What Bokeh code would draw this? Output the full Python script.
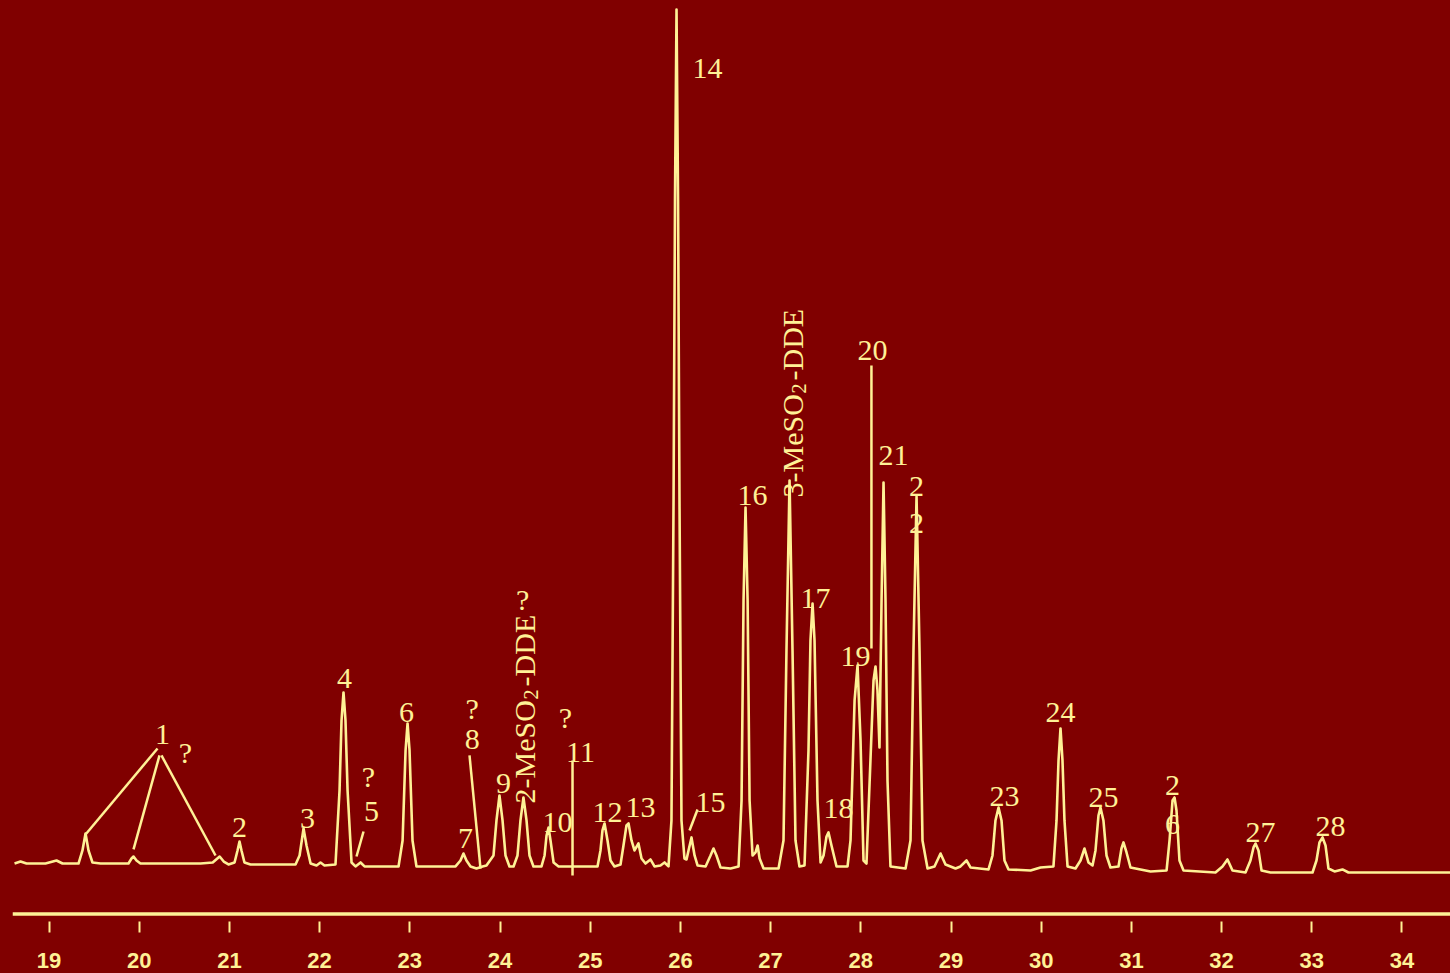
import math

from bokeh.core.properties import value
from bokeh.embed import file_html
from bokeh.models import FixedTicker, Range1d, Span
from bokeh.plotting import figure
from bokeh.resources import INLINE

# Chromatogram trace: retention time (min) and detector response (% of largest peak)
trace_time = [
    18.618, 18.684, 18.751, 18.961, 19.083, 19.150, 19.327, 19.371, 19.405, 19.438,
    19.482, 19.571, 19.881, 19.915, 19.937, 19.970, 20.014, 20.680, 20.815, 20.892,
    20.937, 20.990, 21.057, 21.090, 21.112, 21.134, 21.167, 21.234, 21.733, 21.778,
    21.822, 21.855, 21.900, 21.966, 22.010, 22.054, 22.176, 22.221, 22.243, 22.265,
    22.287, 22.310, 22.354, 22.398, 22.454, 22.498, 22.875, 22.920, 22.953, 22.975,
    22.997, 23.030, 23.074, 23.507, 23.562, 23.595, 23.628, 23.673, 23.739, 23.806,
    23.850, 23.928, 23.961, 23.994, 24.028, 24.061, 24.105, 24.150, 24.194, 24.227,
    24.260, 24.294, 24.327, 24.371, 24.460, 24.494, 24.516, 24.538, 24.560, 24.594,
    24.649, 25.081, 25.114, 25.136, 25.159, 25.192, 25.225, 25.269, 25.336, 25.369,
    25.402, 25.425, 25.458, 25.491, 25.535, 25.569, 25.613, 25.668, 25.713, 25.779,
    25.824, 25.868, 25.901, 25.924, 25.940, 25.957, 25.974, 25.990, 26.012, 26.045,
    26.068, 26.090, 26.123, 26.157, 26.190, 26.279, 26.334, 26.367, 26.400, 26.445,
    26.556, 26.645, 26.678, 26.700, 26.722, 26.745, 26.767, 26.800, 26.833, 26.856,
    26.878, 26.922, 27.088, 27.143, 27.176, 27.210, 27.243, 27.276, 27.320, 27.376,
    27.420, 27.442, 27.465, 27.487, 27.520, 27.554, 27.587, 27.620, 27.642, 27.675,
    27.731, 27.853, 27.886, 27.931, 27.964, 27.997, 28.030, 28.063, 28.107, 28.141,
    28.163, 28.185, 28.207, 28.230, 28.252, 28.274, 28.296, 28.329, 28.496, 28.551,
    28.584, 28.618, 28.651, 28.684, 28.740, 28.817, 28.884, 28.939, 29.050, 29.105,
    29.172, 29.216, 29.416, 29.460, 29.493, 29.527, 29.560, 29.593, 29.638, 29.882,
    29.992, 30.136, 30.170, 30.192, 30.214, 30.236, 30.258, 30.292, 30.380, 30.436,
    30.480, 30.524, 30.569, 30.602, 30.635, 30.657, 30.690, 30.724, 30.768, 30.857,
    30.890, 30.912, 30.946, 30.990, 31.212, 31.390, 31.423, 31.456, 31.478, 31.500,
    31.533, 31.578, 31.932, 32.010, 32.065, 32.121, 32.265, 32.320, 32.354, 32.376,
    32.409, 32.443, 32.542, 33.008, 33.052, 33.085, 33.119, 33.152, 33.185, 33.252,
    33.340, 33.407, 34.538,
]
trace_signal = [
    1.04, 1.27, 1.04, 1.04, 1.39, 1.04, 1.04, 2.55, 4.52, 2.55,
    1.16, 1.04, 1.04, 1.62, 1.85, 1.39, 1.04, 1.04, 1.16, 1.85,
    1.27, 0.93, 1.16, 2.55, 3.59, 2.55, 1.16, 0.93, 0.93, 1.97,
    5.10, 3.13, 1.04, 0.81, 1.16, 0.81, 0.93, 9.50, 17.61, 20.86,
    17.61, 9.50, 1.16, 0.70, 1.16, 0.70, 0.70, 3.71, 14.14, 17.27,
    14.14, 3.71, 0.70, 0.70, 1.39, 2.20, 1.39, 0.70, 0.46, 0.70,
    0.81, 1.97, 6.03, 8.92, 6.03, 1.97, 0.70, 0.70, 1.97, 6.03,
    8.69, 6.03, 1.97, 0.70, 0.70, 1.97, 4.29, 5.21, 3.71, 1.16,
    0.70, 0.70, 2.55, 4.87, 5.68, 3.71, 1.39, 0.70, 0.93, 3.13,
    5.45, 5.68, 3.71, 2.55, 3.36, 1.62, 1.04, 1.51, 0.70, 0.81,
    1.16, 0.70, 6.03, 43.11, 77.87, 100.0, 77.87, 43.11, 6.03, 1.62,
    1.51, 2.55, 4.06, 1.97, 0.81, 0.70, 1.97, 2.78, 1.97, 0.58,
    0.46, 0.70, 8.34, 31.52, 42.29, 31.52, 8.34, 1.97, 2.32, 3.13,
    1.62, 0.46, 0.46, 3.71, 25.73, 45.42, 25.73, 3.71, 0.70, 0.81,
    14.14, 26.88, 31.17, 26.88, 8.34, 1.16, 1.97, 4.17, 4.64, 3.13,
    0.70, 0.70, 3.71, 19.93, 23.99, 15.30, 1.39, 1.04, 12.98, 22.25,
    23.87, 21.09, 14.48, 31.52, 45.19, 31.52, 10.66, 0.70, 0.46, 3.71,
    25.73, 43.57, 25.73, 3.71, 0.46, 0.70, 2.20, 0.93, 0.46, 0.70,
    1.39, 0.58, 0.35, 1.97, 6.03, 7.53, 6.03, 1.39, 0.35, 0.23,
    0.58, 0.70, 6.03, 12.98, 16.69, 12.98, 6.03, 0.70, 0.46, 1.39,
    2.78, 1.16, 0.81, 2.55, 6.60, 7.53, 6.03, 1.97, 0.58, 0.70,
    2.78, 3.48, 2.32, 0.58, 0.12, 0.23, 3.71, 8.34, 8.69, 7.18,
    1.39, 0.23, 0.00, 0.70, 1.51, 0.23, 0.00, 1.39, 2.90, 3.36,
    2.55, 0.23, 0.00, 0.00, 1.39, 3.48, 4.06, 3.13, 0.46, 0.12,
    0.35, 0.00, 0.00,
]

# Time axis ticks (min)
tick_minutes = [19, 20, 21, 22, 23, 24, 25, 26, 27, 28, 29, 30, 31, 32, 33, 34]
tick_labels = [str(m) for m in tick_minutes]

# Peak numbers / question marks
peak_names = [
    "1", "?", "2", "3", "4", "?", "5", "6", "?", "8", "7", "9", "10", "?", "11",
    "12", "13", "14", "15", "16", "17", "18", "19", "20", "21", "2", "2", "23",
    "24", "25", "2", "6", "27", "28", "?",
]

# Compound names written vertically
compound_prefix = ["2-MeSO", "3-MeSO"]
compound_subscript = ["2", "2"]
compound_suffix = ["-DDE", "-DDE"]

YELLOW = "#FFF196"
BG = "#800000"

p = figure(
    frame_width=1438, frame_height=921,
    min_border_left=12, min_border_right=0, min_border_top=0, min_border_bottom=52,
    x_range=Range1d(18.5953, 34.5377), y_range=Range1d(-5.68, 101.04),
    output_backend="svg", toolbar_location=None,
    background_fill_color=BG, border_fill_color=BG, outline_line_color=None,
)
p.grid.visible = False
p.yaxis.visible = False

xa = p.xaxis[0]
xa.ticker = FixedTicker(ticks=tick_minutes)
xa.major_label_overrides = {m: s for m, s in zip(tick_minutes, tick_labels)}
xa.axis_line_color = None
xa.major_tick_in = 0
xa.major_tick_out = 11
xa.major_tick_line_color = YELLOW
xa.major_tick_line_width = 2
xa.minor_tick_line_color = None
xa.major_label_standoff = 20
xa.major_label_text_color = YELLOW
xa.major_label_text_font = "Liberation Sans"
xa.major_label_text_font_style = "bold"
xa.major_label_text_font_size = "22px"

# baseline rule above the tick marks
p.add_layout(Span(location=-4.81, dimension="width", line_color=YELLOW, line_width=3.5))

# chromatogram
p.line(trace_time, trace_signal, line_color=YELLOW, line_width=2.6, line_join="round")

# leader lines from labels to peaks
lead_x0 = [20.203, 20.225, 20.247, 22.487, 23.662, 24.804, 26.101, 28.118]
lead_y0 = [14.37, 13.56, 13.56, 4.75, 13.56, 12.98, 4.87, 58.75]
lead_x1 = [19.405, 19.937, 20.846, 22.409, 23.784, 24.804, 26.190, 28.118]
lead_y1 = [4.40, 2.67, 1.97, 1.85, 0.46, -0.35, 7.30, 25.96]
p.segment(lead_x0, lead_y0, lead_x1, lead_y1, line_color=YELLOW, line_width=2.5)

# peak labels
label_x = [
    20.258, 20.513, 21.112, 21.866, 22.276, 22.542, 22.575, 22.964, 23.692, 23.692,
    23.617, 24.039, 24.637, 24.726, 24.892, 25.191, 25.557, 26.300, 26.334, 26.800,
    27.499, 27.753, 27.942, 28.130, 28.363, 28.618, 28.618, 29.593, 30.214, 30.690,
    31.455, 31.455, 32.431, 33.207, 24.250,
]
label_y = [
    15.99, 13.90, 5.21, 6.26, 22.48, 11.12, 7.07, 18.54, 19.00, 15.41,
    3.94, 10.31, 5.79, 17.96, 13.90, 6.95, 7.53, 93.16, 8.11, 43.68,
    31.75, 7.42, 25.03, 60.49, 48.32, 44.73, 40.44, 8.81, 18.54, 8.69,
    10.08, 5.56, 4.64, 5.33, 31.63,
]
serif = value("Liberation Serif")
p.text(label_x, label_y, text=peak_names, text_color=YELLOW, text_font=serif,
       text_font_size="30px", text_align="center", text_baseline="middle")

# vertical compound names with subscript
cx = [24.416, 27.387]
cy = [8.00, 43.45]
up = math.pi / 2
p.text(cx, cy, text=compound_prefix, angle=up, x_offset=-13, text_color=YELLOW,
       text_font=serif, text_font_size="30px", text_align="left",
       text_baseline="alphabetic")
p.text(cx, cy, text=compound_subscript, angle=up, x_offset=-7, y_offset=-104,
       text_color=YELLOW, text_font=serif, text_font_size="20px",
       text_align="left", text_baseline="alphabetic")
p.text(cx, cy, text=compound_suffix, angle=up, x_offset=-13, y_offset=-117,
       text_color=YELLOW, text_font=serif, text_font_size="30px",
       text_align="left", text_baseline="alphabetic")

html = file_html(p, INLINE)
html = html.replace("<body>", '<body style="margin:0;background:#800000">')
open("out.html", "w").write(html)
